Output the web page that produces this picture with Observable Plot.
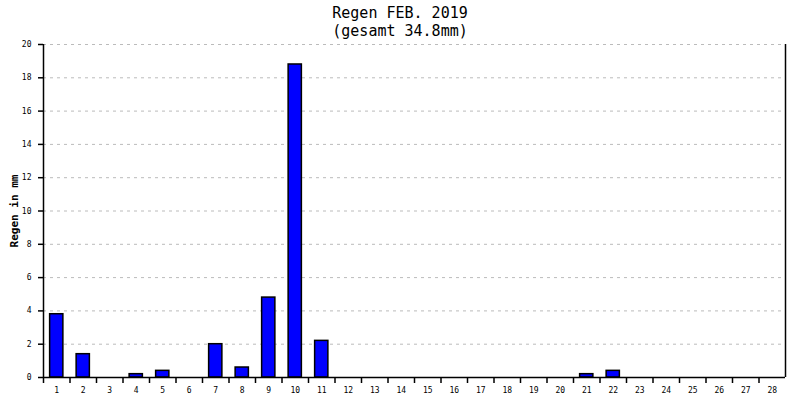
<!DOCTYPE html>
<html>
<head>
<meta charset="utf-8">
<script src="https://cdn.jsdelivr.net/npm/d3@7"></script>
<script src="https://cdn.jsdelivr.net/npm/@observablehq/plot@0.6"></script>
<style>
  body { margin: 0; background: #fff; }
  #title { width: 800px; height: 40px; padding-top: 4px; box-sizing: border-box; text-align: center;
           font-family: "DejaVu Sans Mono", monospace; font-size: 15px; line-height: 18px; color: #000; }
</style>
</head>
<body>
<div id="title">Regen FEB. 2019<br>(gesamt 34.8mm)</div>
<div id="chart"></div>
<script>
const days = d3.range(1, 29);
const rain = [3.8, 1.4, 0, 0.2, 0.4, 0, 2.0, 0.6, 4.8, 18.8, 2.2, 0, 0, 0, 0, 0, 0, 0, 0, 0, 0.2, 0.4, 0, 0, 0, 0, 0, 0];
const yTicks = [0, 2, 4, 6, 8, 10, 12, 14, 16, 18, 20];
const yLabel = "Regen in mm";

const data = days.map((d, i) => ({day: d, value: rain[i]}));
const half = 742 / 28 / 2;

const chart = Plot.plot({
  width: 800,
  height: 360,
  marginTop: 4,
  marginBottom: 23,
  marginLeft: 43,
  marginRight: 15,
  style: {fontFamily: "DejaVu Sans Mono, monospace", fontSize: "8px", color: "#000", background: "#fff"},
  x: {type: "band", domain: days, paddingInner: 0.5, paddingOuter: 0.25, round: false},
  y: {domain: [0, 20]},
  marks: [
    Plot.gridY(yTicks, {stroke: "#bbb", strokeOpacity: 1, strokeDasharray: "3,4"}),
    Plot.barY(data, {x: "day", y: "value", fill: "#0000ff", stroke: "#000", strokeWidth: 1.5}),
    Plot.axisY(yTicks, {tickSize: 5, tickPadding: 7, label: null, stroke: "#000", strokeWidth: 1.5}),
    Plot.text([yLabel], {frameAnchor: "left", textAnchor: "middle", rotate: -90, dx: -29, fontSize: 11, fontWeight: "bold", fill: "#000"}),
    Plot.axisX(days, {tickSize: 0, tickPadding: 10, label: null}),
    Plot.axisX(days, {tickSize: 6, dx: -half, tickFormat: () => "", label: null, strokeWidth: 1.5}),
    Plot.ruleX([days[0]], {y1: 0, y2: 20, dx: -half, stroke: "#000", strokeWidth: 1.5}),
    Plot.ruleX([days[days.length - 1]], {y1: 0, y2: 20, dx: half, stroke: "#000", strokeWidth: 1.5}),
    Plot.ruleY([0], {stroke: "#000", strokeWidth: 1.5})
  ]
});
document.getElementById("chart").appendChild(chart);
</script>
</body>
</html>
